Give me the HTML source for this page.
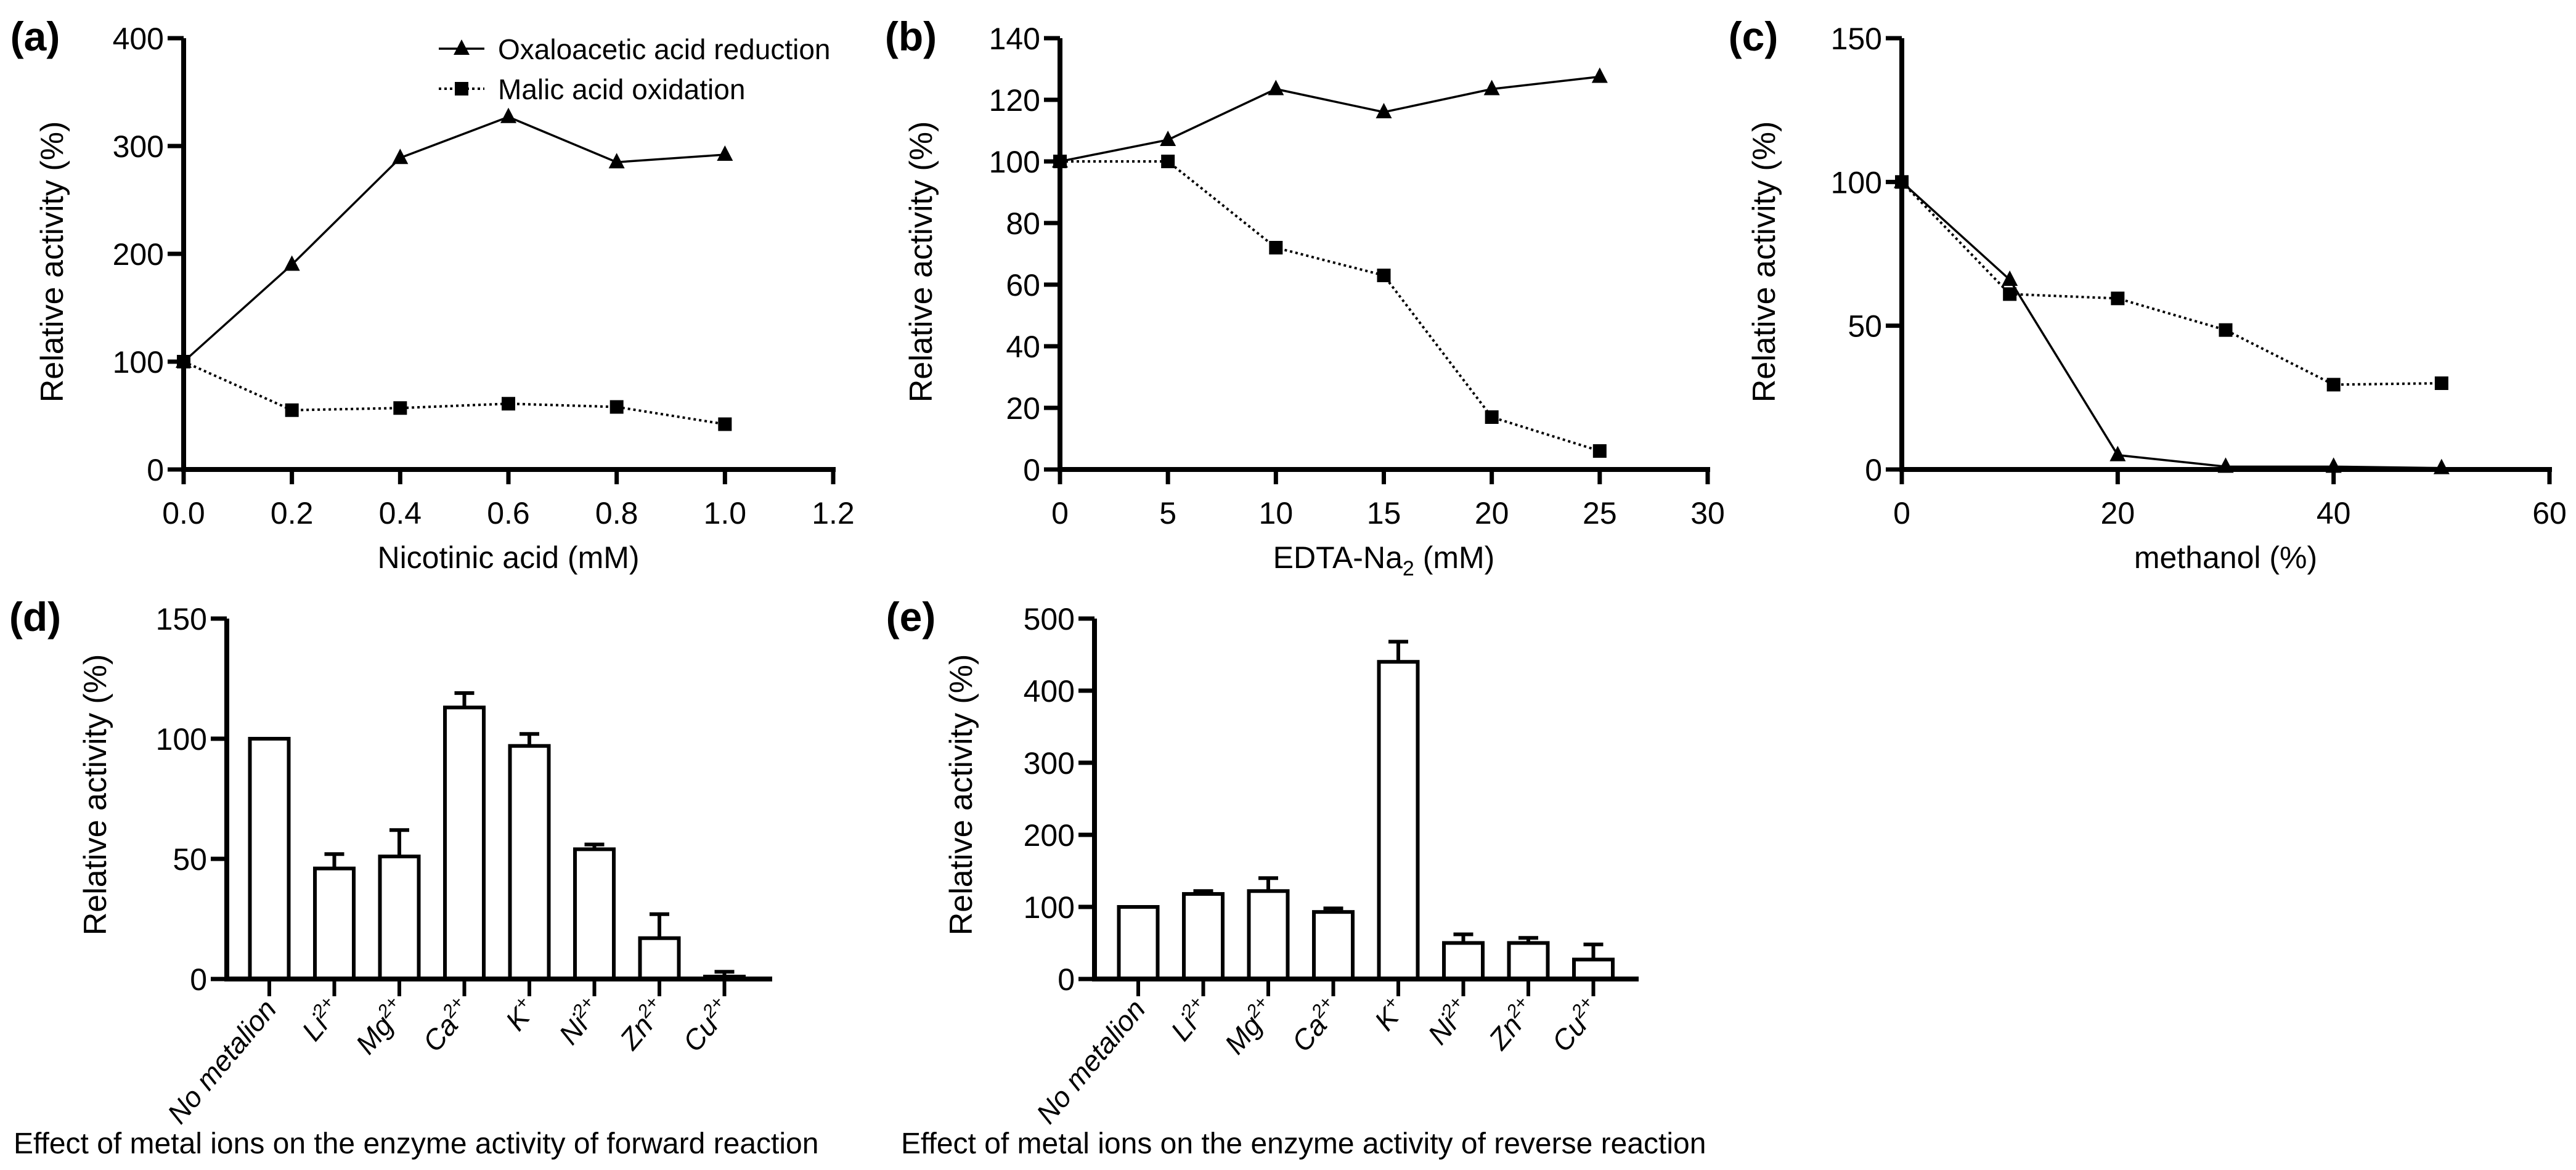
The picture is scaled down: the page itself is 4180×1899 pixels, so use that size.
<!DOCTYPE html>
<html><head><meta charset="utf-8">
<style>
html,body{margin:0;padding:0;background:#fff;}
svg{display:block;font-family:"Liberation Sans",Arial,sans-serif;}
</style></head>
<body>
<svg id="fig" width="4180" height="1899" viewBox="0 0 4180 1899" xmlns="http://www.w3.org/2000/svg"></svg>
<script>
// Panel (a)
const aX = [0, 0.2, 0.4, 0.6, 0.8, 1.0];
const aTri = [100, 190, 289, 327, 285, 292];
const aSq = [100, 55, 57, 61, 58, 42];
const aXTicks = ["0.0","0.2","0.4","0.6","0.8","1.0","1.2"];
const aYTicks = [0, 100, 200, 300, 400];
// Panel (b)
const bX = [0, 5, 10, 15, 20, 25];
const bTri = [100, 107, 123.5, 116, 123.5, 127.5];
const bSq = [100, 100, 72, 63, 17, 6];
const bXTicks = [0, 5, 10, 15, 20, 25, 30];
const bYTicks = [0, 20, 40, 60, 80, 100, 120, 140];
// Panel (c)
const cX = [0, 10, 20, 30, 40, 50];
const cTri = [100, 66, 5, 1, 1, 0.5];
const cSq = [100, 61, 59.5, 48.5, 29.5, 30];
const cXTicks = [0, 20, 40, 60];
const cYTicks = [0, 50, 100, 150];
// Bars
const ions = [["No metalion",""],["Li","2+"],["Mg","2+"],["Ca","2+"],["K","+"],["Ni","2+"],["Zn","2+"],["Cu","2+"]];
const dVals = [100, 46, 51, 113, 97, 54, 17, 1];
const dErr = [0, 6, 11, 6, 5, 2, 10, 2];
const dYTicks = [0, 50, 100, 150];
const eVals = [100, 118, 122, 93, 440, 50, 50, 27];
const eErr = [0, 4, 18, 5, 28, 12, 7, 21];
const eYTicks = [0, 100, 200, 300, 400, 500];

const NS = "http://www.w3.org/2000/svg";
const svg = document.getElementById("fig");
function mk(tag, attrs, parent){
  const e = document.createElementNS(NS, tag);
  for (const k in attrs) e.setAttribute(k, attrs[k]);
  (parent||svg).appendChild(e);
  return e;
}
function txt(s, x, y, size, anchor, parent, extra){
  const t = mk("text", Object.assign({x:x, y:y, "font-size":size, "text-anchor":anchor||"middle", fill:"#000"}, extra||{}), parent);
  t.textContent = s;
  return t;
}

function axesFrame(g, x0, x1, y0, y1, yTicks, ymax, xTicks, xmin, xmax){
  const sx = v => x0 + (v - xmin) / (xmax - xmin) * (x1 - x0);
  const sy = v => y0 - v / ymax * (y0 - y1);
  mk("line",{x1:x0,y1:y0+4,x2:x0,y2:y1,stroke:"#000","stroke-width":8},g);
  mk("line",{x1:x0-4,y1:y0,x2:x1+4,y2:y0,stroke:"#000","stroke-width":8},g);
  yTicks.forEach(v=>{
    mk("line",{x1:x0-26,y1:sy(v),x2:x0,y2:sy(v),stroke:"#000","stroke-width":7},g);
    const t = txt(String(v), x0-32, sy(v)+18, 50, "end", g);
    
    
  });
  if (xTicks) xTicks.forEach(v=>{
    const xv = sx(parseFloat(v));
    mk("line",{x1:xv,y1:y0,x2:xv,y2:y0+24,stroke:"#000","stroke-width":7},g);
    const t = txt(String(v), xv, y0+88, 50, "middle", g);
    
    
  });
  return {sx, sy};
}

function tri(g, x, y){
  const p = mk("polygon",{points:`${x},${y-15} ${x-13},${y+10} ${x+13},${y+10}`,fill:"#000"},g);
  
  
}
function sq(g, x, y){
  const r = mk("rect",{x:x-11,y:y-11,width:22,height:22,fill:"#000"},g);
  
  
}

function linePanel(name, label, lx, x0, x1, xs, triV, sqV, xTicks, yTicks, xmin, xmax, ymax, xtitle, ytX, xtitleSub){
  const g = mk("g",{});
  
  
  const y0 = 762, y1 = 62;
  const {sx, sy} = axesFrame(g, x0, x1, y0, y1, yTicks, ymax, xTicks, xmin, xmax);
  const pl = txt(label, lx, 82, 66, "middle", g, {"font-weight":"bold"});
  
  
  const yt = txt("Relative activity (%)", 0, 0, 52, "middle", g, {transform:`translate(${ytX},425) rotate(-90)`});
  
  
  const xt = txt(xtitle, (x0+x1)/2, 922, 50, "middle", g);
  
  
  if (xtitleSub){
    xt.textContent = "EDTA-Na";
    const s = mk("tspan",{"font-size":34,dy:12},xt); s.textContent = "2";
    const r = mk("tspan",{dy:-12},xt); r.textContent = " (mM)";
  }
  const sqPts = xs.map((v,i)=>`${sx(v)},${sy(sqV[i])}`).join(" ");
  const l2 = mk("polyline",{points:sqPts,fill:"none",stroke:"#000","stroke-width":4,"stroke-dasharray":"4 5"},g);
  
  
  const triPts = xs.map((v,i)=>`${sx(v)},${sy(triV[i])}`).join(" ");
  const l1 = mk("polyline",{points:triPts,fill:"none",stroke:"#000","stroke-width":3.5},g);
  
  
  xs.forEach((v,i)=>sq(g, sx(v), sy(sqV[i])));
  xs.forEach((v,i)=>tri(g, sx(v), sy(triV[i])));
  return g;
}

linePanel("panel-a-nicotinic-acid","(a)",57,298,1352,aX,aTri,aSq,aXTicks,aYTicks,0,1.2,400,"Nicotinic acid (mM)",102);
linePanel("panel-b-edta","(b)",1478,1720,2771,bX,bTri,bSq,bXTicks,bYTicks,0,30,140,"EDTA-Na2 (mM)",1512,true);
linePanel("panel-c-methanol","(c)",2845,3086,4137,cX,cTri,cSq,cXTicks,cYTicks,0,60,150,"methanol (%)",2880);

// legend
const lg = mk("g",{});


mk("line",{x1:712,y1:79,x2:786,y2:79,stroke:"#000","stroke-width":3.5},lg);
tri(lg,749,79);
const le1 = txt("Oxaloacetic acid reduction", 808, 96, 46, "start", lg);


mk("line",{x1:712,y1:144,x2:786,y2:144,stroke:"#000","stroke-width":4,"stroke-dasharray":"4 5"},lg);
sq(lg,749,144);
const le2 = txt("Malic acid oxidation", 808, 161, 46, "start", lg);



function barPanel(name, label, lx, x0, x1, firstC, vals, errs, yTicks, ymax, caption, capX, ytX){
  const g = mk("g",{});
  
  
  const y0 = 1589, y1 = 1004;
  const {sy} = axesFrame(g, x0, x1, y0, y1, yTicks, ymax, null, 0, 1);
  const pl = txt(label, lx, 1024, 66, "middle", g, {"font-weight":"bold"});
  
  
  const yt = txt("Relative activity (%)", 0, 0, 52, "middle", g, {transform:`translate(${ytX},1290) rotate(-90)`});
  
  
  const step = 105.5, bw = 63;
  vals.forEach((v,i)=>{
    const cx = firstC + i*step;
    if (errs[i] > 0){
      const ey = sy(v+errs[i]);
      const e1 = mk("line",{x1:cx,y1:sy(v),x2:cx,y2:ey,stroke:"#000","stroke-width":6},g);
      
      
      mk("line",{x1:cx-16,y1:ey,x2:cx+16,y2:ey,stroke:"#000","stroke-width":6},g);
    }
    const r = mk("rect",{x:cx-bw/2,y:sy(v),width:bw,height:Math.max(0,y0-sy(v)),fill:"#fff",stroke:"#000","stroke-width":6},g);
    
    
    mk("line",{x1:cx,y1:y0,x2:cx,y2:y0+28,stroke:"#000","stroke-width":6},g);
    const t = mk("text",{x:0,y:0,"font-size":46,"font-style":"italic","text-anchor":"end",fill:"#000",transform:`translate(${cx+14},${y0+50}) rotate(-50)`},g);
    
    
    const b = mk("tspan",{},t); b.textContent = ions[i][0];
    if (ions[i][1]){ const s = mk("tspan",{"font-size":30,dy:-18},t); s.textContent = ions[i][1]; }
  });
  mk("line",{x1:x0-4,y1:y0,x2:x1+4,y2:y0,stroke:"#000","stroke-width":8},g);
  const c = txt(caption, capX, 1872, 48, "start", g);
  
  
}
barPanel("panel-d-forward","(d)",57,368,1249,437,dVals,dErr,dYTicks,150,"Effect of metal ions on the enzyme activity of forward reaction",22,172);
barPanel("panel-e-reverse","(e)",1478,1776,2655,1847,eVals,eErr,eYTicks,500,"Effect of metal ions on the enzyme activity of reverse reaction",1462,1577);
</script>
</body></html>
